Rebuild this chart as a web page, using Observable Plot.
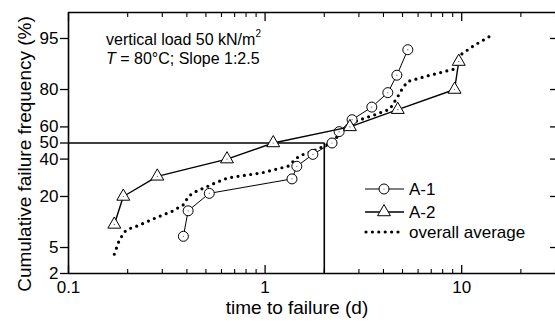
<!DOCTYPE html>
<html><head><meta charset="utf-8">
<script src="https://cdn.jsdelivr.net/npm/d3@7"></script>
<script src="https://cdn.jsdelivr.net/npm/@observablehq/plot@0.6"></script>
<style>
html,body{margin:0;padding:0;background:#fff;}
</style></head><body><div id="chart"></div>
<script>
// ---- data ----
const a1Time = [0.384, 0.406, 0.52, 1.37, 1.45, 1.75, 2.19, 2.38, 2.77, 3.49, 4.21, 4.68, 5.32];
const a1Freq = [7.1, 14.3, 21.4, 28.6, 35.7, 42.9, 50, 57.1, 64.3, 71.4, 78.6, 85.7, 92.9];
const a2Time = [0.171, 0.19, 0.283, 0.64, 1.1, 2.7, 4.73, 9.2, 9.66];
const a2Freq = [10, 20, 30, 40, 50, 60, 70, 80, 90];
const avgTime = [0.171, 0.180, 0.191, 0.199, 0.227, 0.277, 0.336, 0.385, 0.408, 0.441, 0.558, 0.649, 0.962, 1.31, 1.49, 1.83, 2.18, 2.40, 2.92, 3.69, 4.31, 4.66, 5.04, 5.34, 6.74, 9.21, 9.58, 11.6, 14.4];
const avgFreq = [4.0, 6.0, 7.9, 8.7, 9.7, 11.9, 14.1, 16.6, 20.1, 22.1, 26.5, 29.2, 31.9, 35.8, 41.9, 46.0, 50.2, 55.5, 63.6, 67.5, 70.3, 75.7, 81.0, 83.4, 85.5, 87.8, 91.3, 93.8, 95.6];
const refFreq = 50;   // median guide line
const refTime = 2;    // median time to failure (d)
const yTickLabels = [2, 5, 20, 40, 50, 60, 80, 95];
const yRightTicks = [5, 20, 40, 60, 80, 95];
const yDomainPct = [2, 98];
const xDomain = [0.1, 30];
const xMajorTicks = [0.1, 1, 10];
const xMinorTicks = [0.2,0.3,0.4,0.5,0.6,0.7,0.8,0.9,2,3,4,5,6,7,8,9,20,30];
const seriesNames = ["A-1", "A-2", "overall average"];
const xTitle = "time to failure (d)";
const yTitle = "Cumulative failure frequency (%)";

// inverse normal CDF (probability-paper scale), Acklam's approximation
function probit(p){
  const a=[-3.969683028665376e+01,2.209460984245205e+02,-2.759285104469687e+02,1.383577518672690e+02,-3.066479806614716e+01,2.506628277459239e+00];
  const b=[-5.447609879822406e+01,1.615858368580409e+02,-1.556989798598866e+02,6.680131188771972e+01,-1.328068155288572e+01];
  const c=[-7.784894002430293e-03,-3.223964580411365e-01,-2.400758277161838e+00,-2.549732539343734e+00,4.374664141464968e+00,2.938163982698783e+00];
  const d=[7.784695709041462e-03,3.224671290700398e-01,2.445134137142996e+00,3.754408661907416e+00];
  const pl=0.02425, ph=1-pl; let q,r;
  if(p<pl){q=Math.sqrt(-2*Math.log(p));return (((((c[0]*q+c[1])*q+c[2])*q+c[3])*q+c[4])*q+c[5])/((((d[0]*q+d[1])*q+d[2])*q+d[3])*q+1);}
  if(p<=ph){q=p-0.5;r=q*q;return (((((a[0]*r+a[1])*r+a[2])*r+a[3])*r+a[4])*r+a[5])*q/(((((b[0]*r+b[1])*r+b[2])*r+b[3])*r+b[4])*r+1);}
  q=Math.sqrt(-2*Math.log(1-p));return -(((((c[0]*q+c[1])*q+c[2])*q+c[3])*q+c[4])*q+c[5])/((((d[0]*q+d[1])*q+d[2])*q+d[3])*q+1);
}
const zt = v => probit(v/100);

const a1 = a1Time.map((t,i)=>({t, z: zt(a1Freq[i])}));
const a2 = a2Time.map((t,i)=>({t, z: zt(a2Freq[i])}));
const avg = avgTime.map((t,i)=>({t, z: zt(avgFreq[i])}));
const yLab = d => { const v = yTickLabels.find(v => Math.abs(zt(v)-d) < 1e-9); return v == null ? "" : String(v); };
const FONT = '"Liberation Sans", Arial, Helvetica, sans-serif';

const plot = Plot.plot({
  width: 555, height: 322,
  marginLeft: 68, marginRight: 0, marginTop: 12, marginBottom: 49,
  style: {fontFamily: FONT, fontSize: "17px", background: "white", color: "black", overflow: "visible"},
  x: {type: "log", domain: xDomain},
  y: {type: "linear", domain: yDomainPct.map(zt)},
  marks: [
    // frame lines
    Plot.ruleY(yDomainPct.map(zt), {stroke: "black", strokeWidth: 1.6}),
    Plot.ruleX([xDomain[0]], {stroke: "black", strokeWidth: 1.6}),
    // left axis (outward ticks)
    Plot.axisY({anchor: "left", ticks: yTickLabels.map(zt), tickFormat: yLab, tickSize: 8, tickPadding: 2, label: null, fontSize: 17, strokeWidth: 1.3}),
    // right axis ticks (inward)
    Plot.axisY({anchor: "right", ticks: yRightTicks.map(zt), tickFormat: () => "", tickSize: 6, dx: -6, label: null, strokeWidth: 1.3}),
    // bottom axis labels
    Plot.axisX({anchor: "bottom", ticks: xMajorTicks, tickSize: 0, tickPadding: 7, tickFormat: d => String(d), label: null, fontSize: 17}),
    // bottom inward ticks
    Plot.axisX({anchor: "bottom", ticks: xMajorTicks, tickSize: 8, dy: -8, tickFormat: () => "", label: null, strokeWidth: 1.3}),
    Plot.axisX({anchor: "bottom", ticks: xMinorTicks, tickSize: 4, dy: -4, tickFormat: () => "", label: null, strokeWidth: 1.1}),
    // top inward ticks
    Plot.axisX({anchor: "top", ticks: xMajorTicks, tickSize: 8, dy: 8, tickFormat: () => "", label: null, strokeWidth: 1.3}),
    Plot.axisX({anchor: "top", ticks: xMinorTicks, tickSize: 4, dy: 4, tickFormat: () => "", label: null, strokeWidth: 1.1}),
    // median guide lines
    Plot.ruleY([zt(refFreq)], {x1: xDomain[0], x2: refTime, stroke: "black", strokeWidth: 1.6}),
    Plot.ruleX([refTime], {y1: zt(yDomainPct[0]), y2: zt(refFreq), stroke: "black", strokeWidth: 1.6}),
    // overall average (dotted)
    Plot.line(avg, {x: "t", y: "z", stroke: "black", strokeWidth: 3.2, strokeDasharray: "0,6.4", strokeLinecap: "round", curve: "linear"}),
    // A-1
    Plot.line(a1, {x: "t", y: "z", stroke: "black", strokeWidth: 1}),
    Plot.dot(a1, {x: "t", y: "z", r: 5, fill: "white", stroke: "black", strokeWidth: 1}),
    Plot.dot(a1, {x: "t", y: "z", r: 0.6, fill: "#555"}),
    // A-2
    Plot.line(a2, {x: "t", y: "z", stroke: "black", strokeWidth: 1.4}),
    Plot.dot(a2, {x: "t", y: "z", r: 4.8, symbol: "triangle", fill: "white", stroke: "black", strokeWidth: 1}),
    Plot.dot(a2, {x: "t", y: "z", r: 0.6, fill: "#555"})
  ]
});

const svg = d3.select(plot);
svg.style("font-family", FONT);
// axis titles
svg.append("text").attr("transform", "translate(31,154) rotate(-90)").attr("text-anchor", "middle")
  .attr("font-size", 19).attr("fill", "black").text(yTitle);
svg.append("text").attr("x", 297).attr("y", 314).attr("text-anchor", "middle")
  .attr("font-size", 19).attr("fill", "black").text(xTitle);
// annotation
const t1 = svg.append("text").attr("x", 106).attr("y", 45).attr("font-size", 16).attr("fill", "black").attr("text-anchor", "start");
t1.append("tspan").text("vertical load 50 kN/m");
t1.append("tspan").attr("font-size", 10).attr("dy", -8).text("2");
const t2 = svg.append("text").attr("x", 106).attr("y", 64).attr("font-size", 16).attr("fill", "black").attr("text-anchor", "start");
t2.append("tspan").attr("font-style", "italic").text("T");
t2.append("tspan").text(" = 80°C; Slope 1:2.5");

// legend
const lg = svg.append("g");
const rows = [189, 212, 232];
const lx0 = 365, lx1 = 404, lsx = 384, ltx = 409;
// A-1
lg.append("line").attr("x1", lx0).attr("x2", lx1).attr("y1", rows[0]).attr("y2", rows[0]).attr("stroke", "black").attr("stroke-width", 1);
lg.append("circle").attr("cx", lsx).attr("cy", rows[0]).attr("r", 5).attr("fill", "white").attr("stroke", "black");
lg.append("circle").attr("cx", lsx).attr("cy", rows[0]).attr("r", 0.6).attr("fill", "#555");
// A-2
lg.append("line").attr("x1", lx0).attr("x2", lx1).attr("y1", rows[1]).attr("y2", rows[1]).attr("stroke", "black").attr("stroke-width", 1.4);
lg.append("path").attr("d", d3.symbol(d3.symbolTriangle, Math.PI*4.8*4.8)()).attr("transform", `translate(${lsx},${rows[1]})`).attr("fill", "white").attr("stroke", "black");
// overall average
lg.append("line").attr("x1", lx0 + 1).attr("x2", lx1).attr("y1", rows[2]).attr("y2", rows[2]).attr("stroke", "black").attr("stroke-width", 3.2).attr("stroke-dasharray", "0,6.4").attr("stroke-linecap", "round");
seriesNames.forEach((n, i) => {
  lg.append("text").attr("x", ltx).attr("y", rows[i]).attr("dy", "0.35em").attr("font-size", 17).attr("fill", "black").attr("text-anchor", "start").text(n);
});

document.getElementById("chart").appendChild(plot);
</script>
</body></html>
